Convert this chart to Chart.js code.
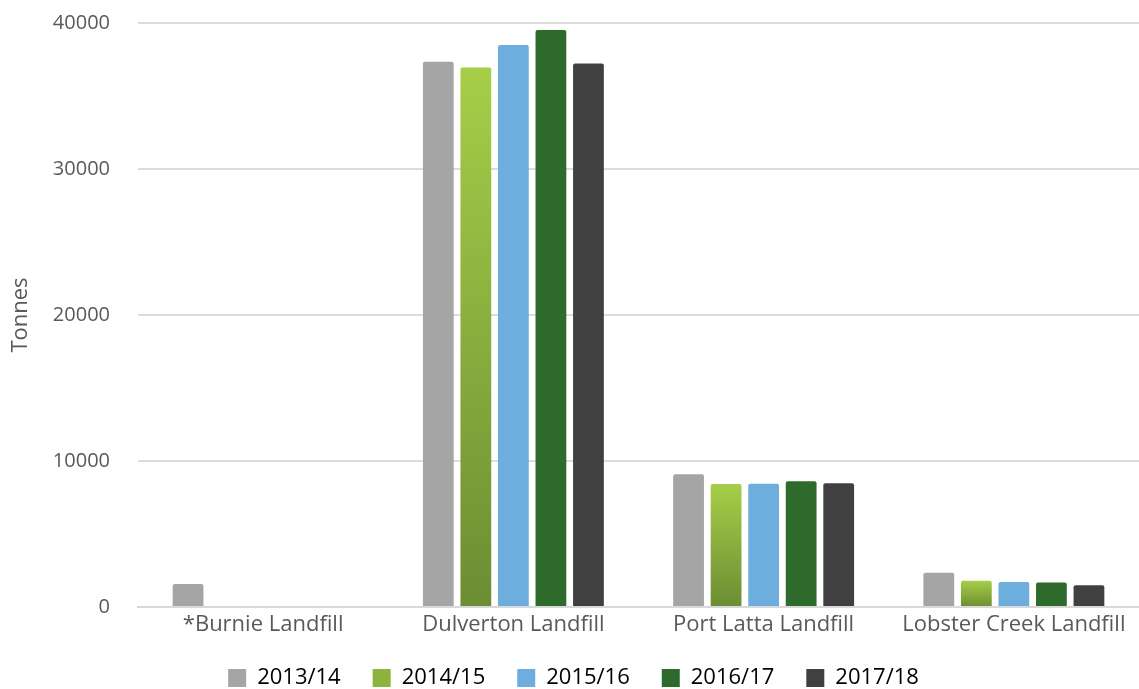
<!DOCTYPE html>
<html>
<head>
<meta charset="utf-8">
<script src="https://cdn.jsdelivr.net/npm/chart.js@4.4.0/dist/chart.umd.min.js"></script>
<style>
html,body{margin:0;padding:0;background:#fff;}
#wrap{width:1139px;height:689px;position:relative;}
</style>
</head>
<body>
<div id="wrap"><canvas id="c" width="1139" height="689"></canvas></div>
<script>
const categories = ["*Burnie Landfill", "Dulverton Landfill", "Port Latta Landfill", "Lobster Creek Landfill"];
const seriesNames = ["2013/14", "2014/15", "2015/16", "2016/17", "2017/18"];
const v2013 = [1580, 37340, 9090, 2340];
const v2014 = [null, 36960, 8430, 1790];
const v2015 = [null, 38490, 8450, 1720];
const v2016 = [null, 39520, 8610, 1670];
const v2017 = [null, 37230, 8470, 1490];
const yTicks = [0, 10000, 20000, 30000, 40000];

const colors = ["#A5A5A5", "green-gradient", "#6DAEDE", "#2F6A2D", "#404040"];

function greenGrad(ctx) {
  const chart = ctx.chart;
  const ys = chart.scales && chart.scales.y;
  if (!chart.chartArea || !ys || ctx.raw == null) return "#8DB33F";
  const top = ys.getPixelForValue(ctx.raw);
  const bottom = ys.getPixelForValue(0);
  if (!isFinite(top) || !isFinite(bottom) || bottom - top < 1) return "#8DB33F";
  const g = chart.ctx.createLinearGradient(0, top, 0, bottom);
  g.addColorStop(0, "#A6CE48");
  g.addColorStop(1, "#6C8D33");
  return g;
}

const seriesData = [v2013, v2014, v2015, v2016, v2017];
const datasets = seriesNames.map((n, i) => ({
  label: n,
  data: seriesData[i],
  backgroundColor: colors[i] === "green-gradient" ? greenGrad : colors[i],
  borderWidth: 0,
  borderRadius: 2,
  borderSkipped: 'bottom',
  categoryPercentage: 0.75,
  barPercentage: 0.82
}));

const FONT = "'Open Sans', 'Noto Sans', sans-serif";
const TXT = "#595959";

new Chart(document.getElementById('c'), {
  type: 'bar',
  data: { labels: categories, datasets },
  options: {
    responsive: false,
    animation: false,
    devicePixelRatio: 1,
    layout: { padding: { top: 23, right: 0, left: 8, bottom: -10 } },
    plugins: {
      tooltip: { enabled: false },
      legend: {
        position: 'bottom',
        labels: {
          font: { family: FONT, size: 22 },
          color: TXT,
          boxWidth: 18,
          boxHeight: 18,
          padding: 32,
          generateLabels(chart) {
            return chart.data.datasets.map((d, i) => ({
              text: d.label,
              fillStyle: colors[i] === "green-gradient" ? "#8DB33F" : colors[i],
              strokeStyle: 'rgba(0,0,0,0)',
              lineWidth: 0,
              datasetIndex: i,
              hidden: false
            }));
          }
        }
      }
    },
    scales: {
      x: {
        afterFit(scale) { scale.height = 28; },
        grid: { display: false, drawTicks: false },
        border: { display: true, color: "#D9D9D9", width: 2 },
        ticks: { font: { family: FONT, size: 22 }, color: TXT, padding: 5 }
      },
      y: {
        min: 0, max: 40000,
        afterBuildTicks(scale) { scale.ticks = yTicks.map(v => ({ value: v })); },
        afterFit(scale) { scale.width = 130; },
        grid: { color: "#DCDCDC", lineWidth: 2, drawTicks: true, tickLength: 28, tickColor: 'rgba(0,0,0,0)' },
        border: { display: false },
        ticks: { font: { family: FONT, size: 20 }, color: TXT, padding: 0, callback: v => String(v) },
        title: { display: true, text: "Tonnes", font: { family: FONT, size: 22 }, color: TXT, padding: 0 }
      }
    }
  }
});
</script>
</body>
</html>
